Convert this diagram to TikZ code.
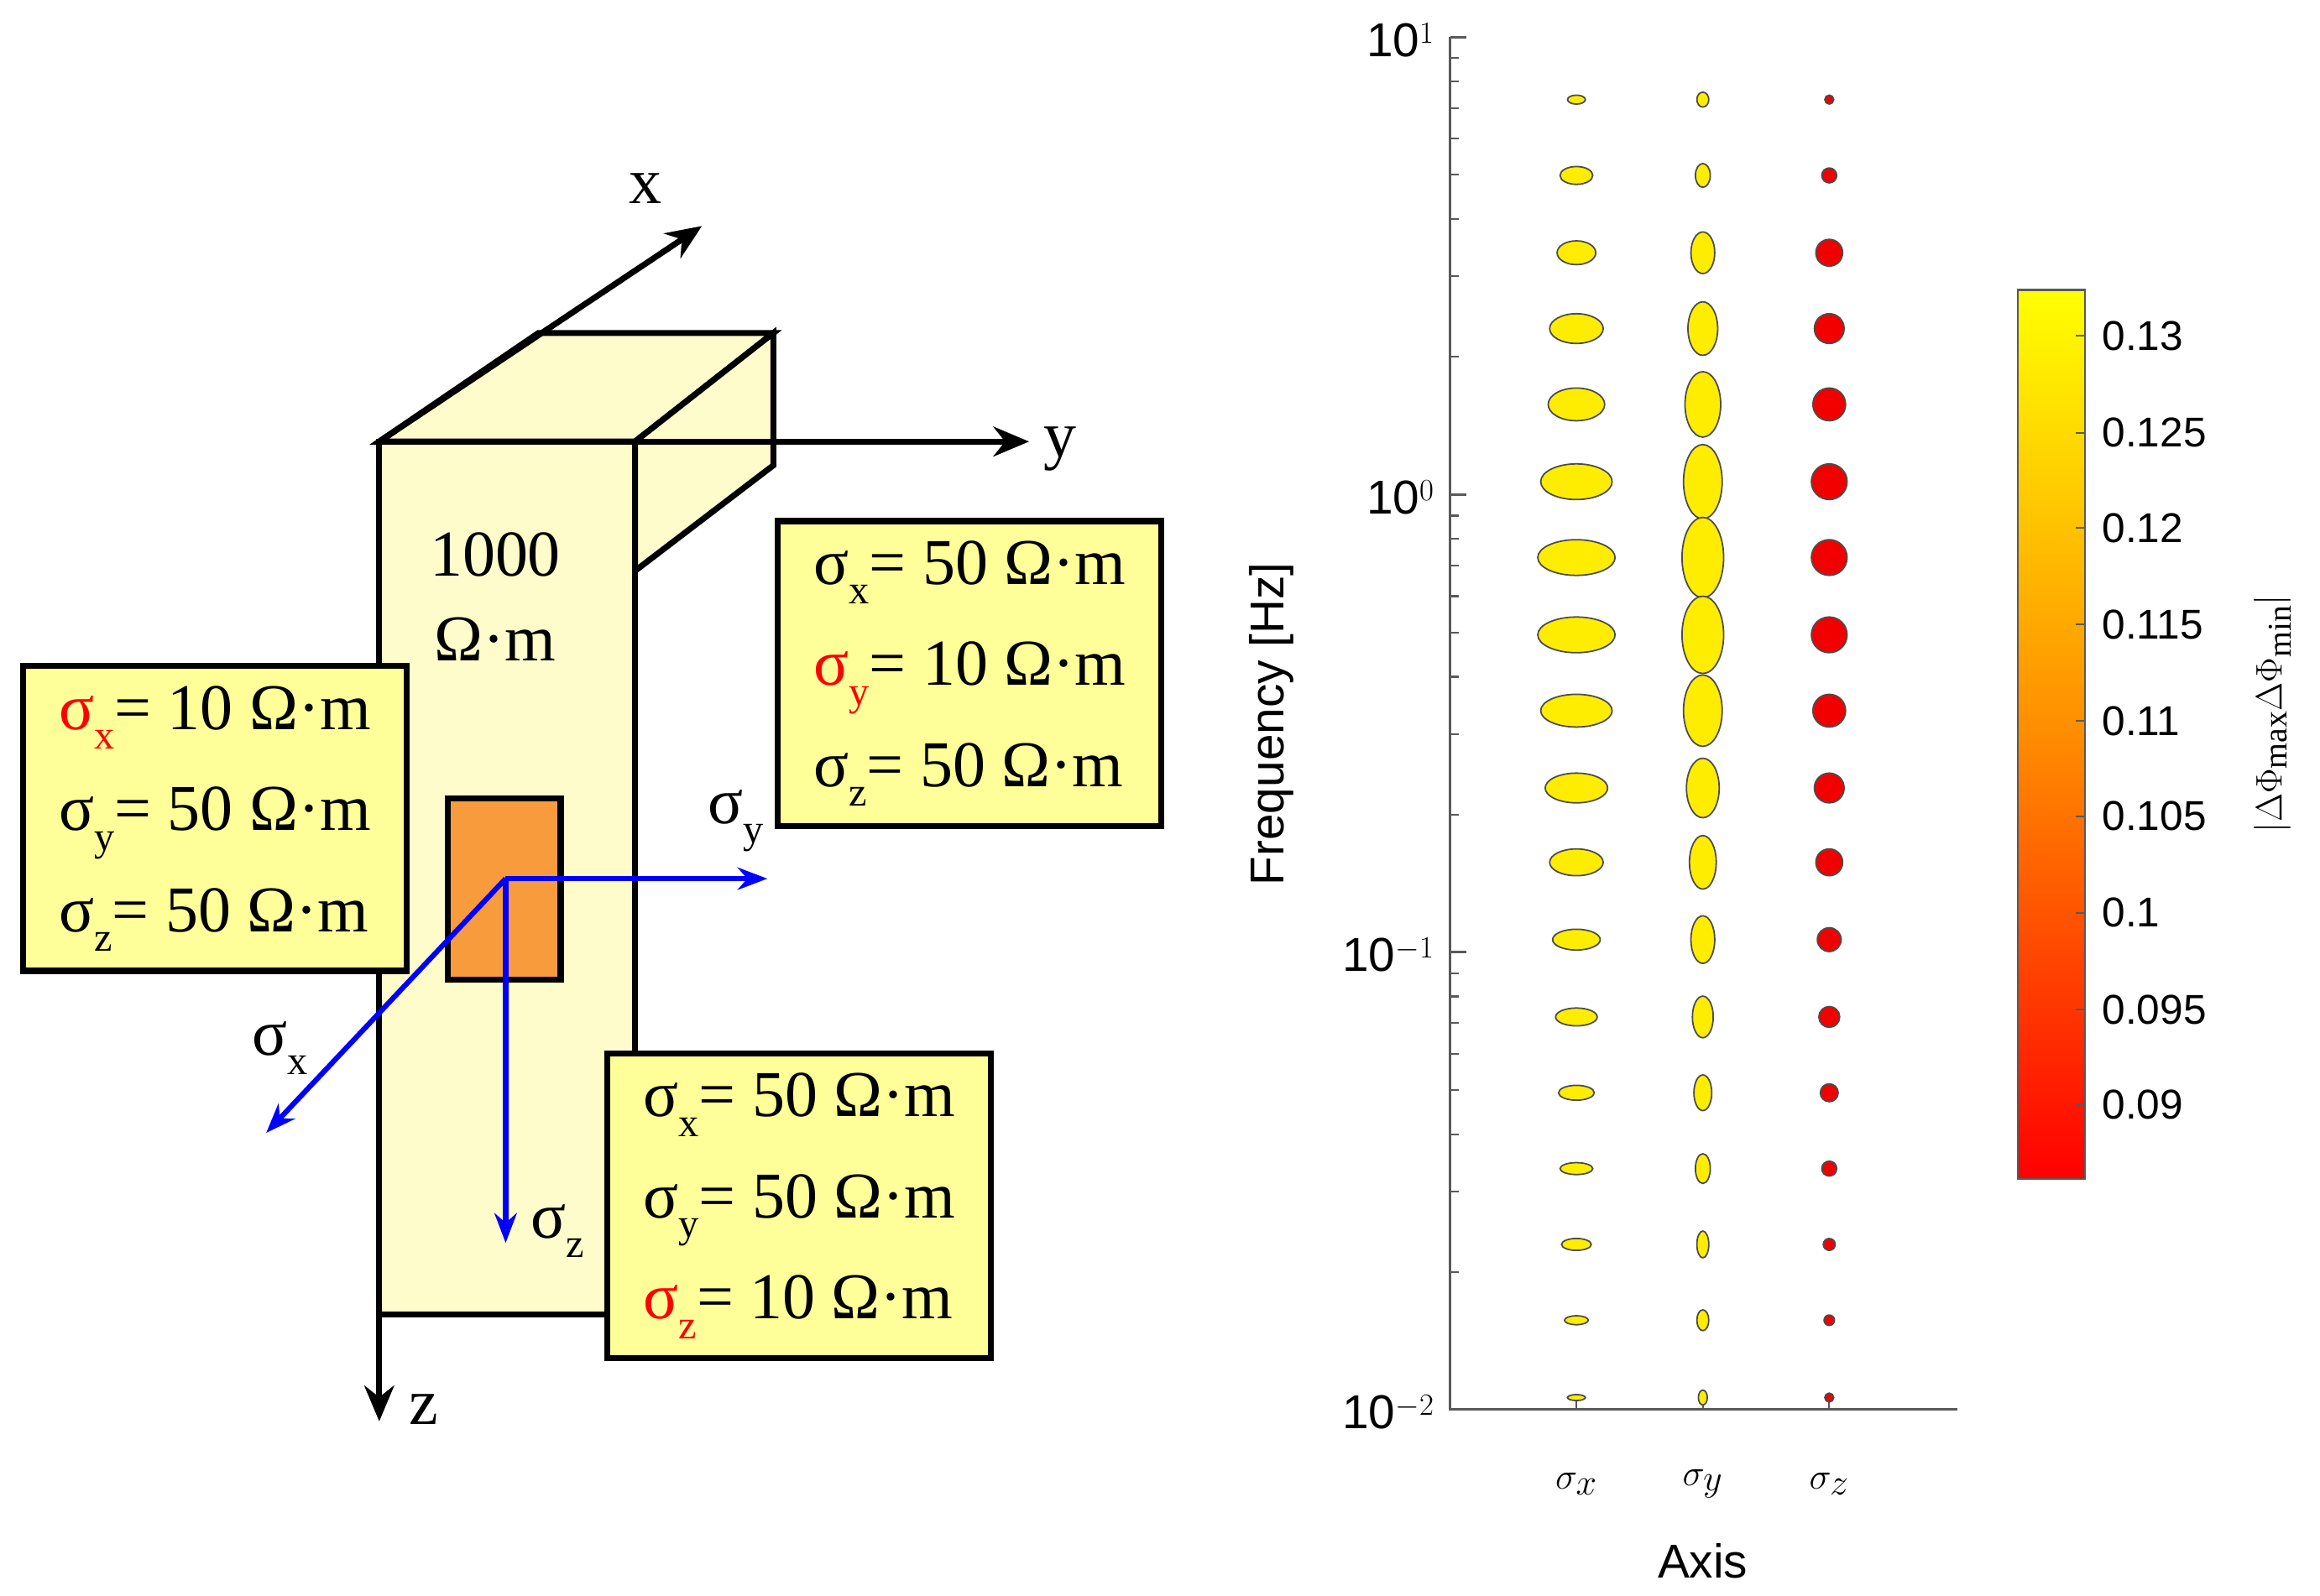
\documentclass[tikz,border=0pt]{standalone}
\usepackage{fontspec}
\usetikzlibrary{arrows.meta}
\setmainfont{Liberation Serif}
\newfontfamily\plotfont{Liberation Sans}
\definecolor{boxy}{RGB}{255,255,153}
\definecolor{facey}{RGB}{255,252,204}
\definecolor{orng}{RGB}{248,155,60}
\begin{document}
\newcommand{\sg}[2][black]{\textcolor{#1}{σ\raisebox{-0.3em}{\scalebox{0.62}{#2}}}}
\begin{tikzpicture}[x=1pt,y=-1pt,
  face/.style={draw=black,line width=4pt,fill=facey},
  tbox/.style={draw=black,line width=4pt,fill=boxy,inner sep=0pt,minimum width=258pt,minimum height=205pt,align=left,font=\fontsize{44}{68}\selectfont},
  ax/.style={line width=4pt,-{Stealth[length=24pt,width=20pt]}},
  bax/.style={blue,line width=3.5pt,-{Stealth[length=20pt,width=15pt]}},
  lbl/.style={font=\fontsize{44}{44}\selectfont},
  pl/.style={font=\plotfont\fontsize{28}{28}\selectfont}]
\useasboundingbox (0,0) rectangle (1560,1073);
\fill[white] (0,0) rectangle (1560,1073);
% 3D box
\coordinate (A) at (255,297); \coordinate (B) at (427,297);
\coordinate (C) at (362,224); \coordinate (D) at (520,224);
\draw[face] (A) -- (C) -- (D) -- (B) -- cycle;
\draw[face] (B) -- (D) -- (520,313) -- (427,384) -- cycle;
\draw[face] (A) rectangle (427,884);
\node[lbl] (r1) at (333,373) {1000};
\node[lbl] (r2) at (333,430) {Ω·m};
\draw[fill=orng,draw=black,line width=4pt] (301,537) rectangle (377,659);
% axes
\coordinate (xe) at (472,152); \coordinate (ye) at (692,297); \coordinate (ze) at (255,956);
\draw[ax] (A) -- (xe); \draw[ax] (B) -- (ye); \draw[ax] (A) -- (ze);
\node[lbl] (xl) at (434,127) {x};
\node[lbl] (yl) at (713,302) {y};
\node[lbl] (zl) at (285,948) {z};
% blue arrows
\coordinate (O) at (340,591);
\coordinate (sy) at (516,591); \coordinate (sx) at (179,762); \coordinate (sz) at (340,836);
\draw[bax] (O) -- (sy); \draw[bax] (O) -- (sx); \draw[bax] (O) -- (sz);
\node[lbl] (syl) at (495,552) {\sg{y}};
\node[lbl] (sxl) at (188,705) {\sg{x}};
\node[lbl] (szl) at (375,828) {\sg{z}};
% text boxes
\node[tbox] (b1) at (144.5,550.5) {\sg[red]{x}= 10 Ω·m\\\sg{y}= 50 Ω·m\\\sg{z}= 50 Ω·m};
\node[tbox] (b2) at (652,453) {\sg{x}= 50 Ω·m\\\sg[red]{y}= 10 Ω·m\\\sg{z}= 50 Ω·m};
\node[tbox] (b3) at (537.5,811) {\sg{x}= 50 Ω·m\\\sg{y}= 50 Ω·m\\\sg[red]{z}= 10 Ω·m};
% plot axes
\draw[gray!70!black,line width=1.5pt] (975,25) -- (975,948) -- (1316,948);
\foreach \d/\e in {0/1,1/0,2/-1,3/-2}{
  \pgfmathsetmacro{\yy}{25+307.7*\d}
  \draw[gray!70!black,line width=1.5pt] (975,\yy) -- (986,\yy);
  \node[pl,anchor=east,font=\plotfont\fontsize{32}{32}\selectfont] at (968,\yy+2) {10$^{\e}$};
}
\foreach \d in {0,1,2}{
  \foreach \k in {2,...,9}{
    \pgfmathsetmacro{\yy}{25+307.7*(\d+1)-307.7*log10(\k)}
    \draw[gray!70!black,line width=1.2pt] (975,\yy) -- (981,\yy);
  }}
\foreach \xx in {1060,1145,1230} \draw[gray!70!black,line width=1.2pt] (\xx,948) -- (\xx,941);
\node[pl,font=\fontsize{36}{36}\selectfont] at (1060,998) {$\sigma_x$};
\node[pl,font=\fontsize{36}{36}\selectfont] at (1145,998) {$\sigma_y$};
\node[pl,font=\fontsize{36}{36}\selectfont] at (1230,998) {$\sigma_z$};
\node[pl,font=\plotfont\fontsize{32}{32}\selectfont] (axl) at (1145,1050) {Axis};
\node[pl,font=\plotfont\fontsize{32}{32}\selectfont,rotate=90] (fl) at (855,487) {Frequency [Hz]};
% ellipses
\def\ys{67,118,170,221,272,324,375,427,478,530,580,632,684,735,786,837,888,940}
\foreach \y [count=\i] in \ys {
  \pgfmathsetmacro{\ax}{{6,11,13,18,19,24,26,26,24,21,18,16,14,12,11,10,8,6}[\i-1]}
  \pgfmathsetmacro{\ay}{{3,6,8,10,11,12,12,12,11,10,9,7,6,5,4,4,3,2}[\i-1]}
  \pgfmathsetmacro{\bx}{{4,5,8,10,12,13,14,14,13,11,9,8,7,6,5,4,4,3}[\i-1]}
  \pgfmathsetmacro{\by}{{5,8,14,18,22,25,27,26,24,20,18,16,14,12,10,9,7,5}[\i-1]}
  \pgfmathsetmacro{\cr}{{3,5,9,10,11,12,12,12,11,10,9,8,7,6,5,4,3.5,3}[\i-1]}
  \draw[fill=yellow!95!orange,draw=black!70,line width=1pt] (1060,\y) ellipse [x radius=\ax, y radius=\ay];
  \draw[fill=yellow!95!orange,draw=black!70,line width=1pt] (1145,\y) ellipse [x radius=\bx, y radius=\by];
  \draw[fill=red!95!black,draw=black!70,line width=1pt] (1230,\y) circle [radius=\cr];
}
% colorbar
\shade[top color=yellow,bottom color=red,middle color=orange!90!yellow] (1357,195) rectangle (1402,793);
\draw[gray!70!black,line width=1.2pt] (1357,195) rectangle (1402,793);
\foreach \v/\y in {0.13/226,0.125/291,0.12/355,0.115/420,0.11/485,0.105/549,0.1/614,0.095/679,0.09/743}{
  \draw[gray!70!black,line width=1.2pt] (1402,\y) -- (1396,\y);
  \node[pl,anchor=west] at (1410,\y) {\v};
}
\node[pl,rotate=90,font=\fontsize{32}{32}\selectfont] (cbl) at (1528,480) {$|\Delta\Phi_{\max}\Delta\Phi_{\min}|$};
\end{tikzpicture}
\end{document}
